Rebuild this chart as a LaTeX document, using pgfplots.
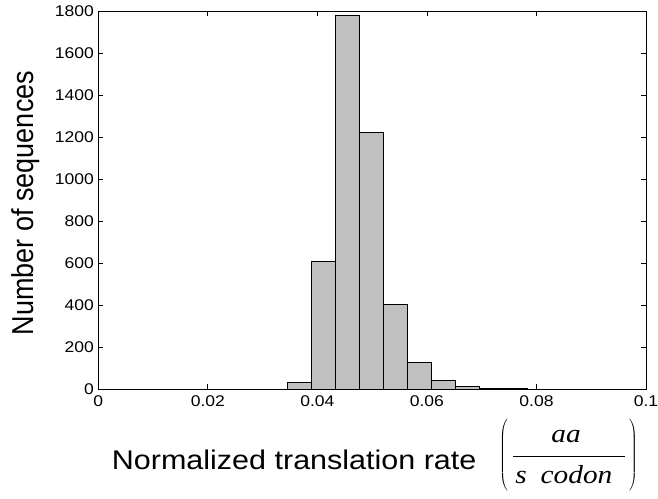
\documentclass[border=0pt]{standalone}
\usepackage{graphicx}
\usepackage{pgfplots}
\pgfplotsset{compat=1.18}
\usepackage{fontspec}
\setmainfont{Liberation Sans}
\newfontfamily\sfw{Liberation Sans}[FakeStretch=1.13]
\newfontfamily\tnr{Liberation Serif}[FakeStretch=1.13]
\definecolor{bargray}{RGB}{192,192,192}
\begin{document}
\begin{tikzpicture}[x=1pt,y=1pt]
\begin{axis}[
  scale only axis,
  width=547.7pt, height=378.3pt,
  xmin=0, xmax=0.1, ymin=0, ymax=1800,
  axis line style={black, line width=0.9pt},
  tick align=inside,
  major tick length=5pt,
  tick style={black, line width=0.8pt},
  xtick={0,0.02,0.04,0.06,0.08,0.1},
  xticklabels={0,0.02,0.04,0.06,0.08,0.1},
  scaled x ticks=false,
  ytick={0,200,...,1800},
  yticklabels={0,200,400,600,800,1000,1200,1400,1600,1800},
  /pgf/number format/assume math mode=true,
  xticklabel style={font=\sfw\fontsize{15.5}{18}\selectfont, yshift=-3pt},
  yticklabel style={font=\sfw\fontsize{15.5}{18}\selectfont, xshift=-1pt},
  xlabel={\sfw\fontsize{27}{30}\selectfont Normalized translation rate},
  xlabel style={at={(rel axis cs:0,0)}, anchor=base west, xshift=13.4pt, yshift=-79.7pt, inner sep=0pt},
  ylabel={\scalebox{1}[1.12]{\fontsize{27}{30}\selectfont Number of sequences}},
  ylabel style={at={(rel axis cs:-0.1174,0.4925)}, anchor=base, inner sep=0pt},
]
\addplot[ybar interval, fill=bargray, draw=black, line width=0.8pt] coordinates {
(0.0345,31) (0.03888,607) (0.04326,1781) (0.04764,1221) (0.05202,402)
(0.0564,128) (0.06078,44) (0.06516,12) (0.06954,3) (0.07392,2) (0.0783,2)
};
\end{axis}
% unit fraction (aa / s codon) in large parentheses, placed under the axis
\draw[black, line width=0.9pt] (414.7pt,-66.7pt) -- (526.7pt,-66.7pt);
\node[anchor=base, inner sep=0pt, font=\tnr\itshape\fontsize{26}{28}\selectfont] at (467.7pt,-52.7pt) {aa};
\node[anchor=base, inner sep=0pt, font=\tnr\itshape\fontsize{26}{28}\selectfont] at (422.7pt,-93.7pt) {s};
\node[anchor=base, inner sep=0pt, font=\tnr\itshape\fontsize{26}{28}\selectfont] at (478.2pt,-93.7pt) {codon};
\node[inner sep=0pt] at (405.7pt,-66.2pt) {$\left(\rule[-35pt]{0pt}{70pt}\right.$};
\node[inner sep=0pt] at (534.7pt,-66.2pt) {$\left.\rule[-35pt]{0pt}{70pt}\right)$};
\pgfresetboundingbox
\useasboundingbox (-98.3pt,-108.7pt) rectangle (559.7pt,389.3pt);
\end{tikzpicture}
\end{document}
